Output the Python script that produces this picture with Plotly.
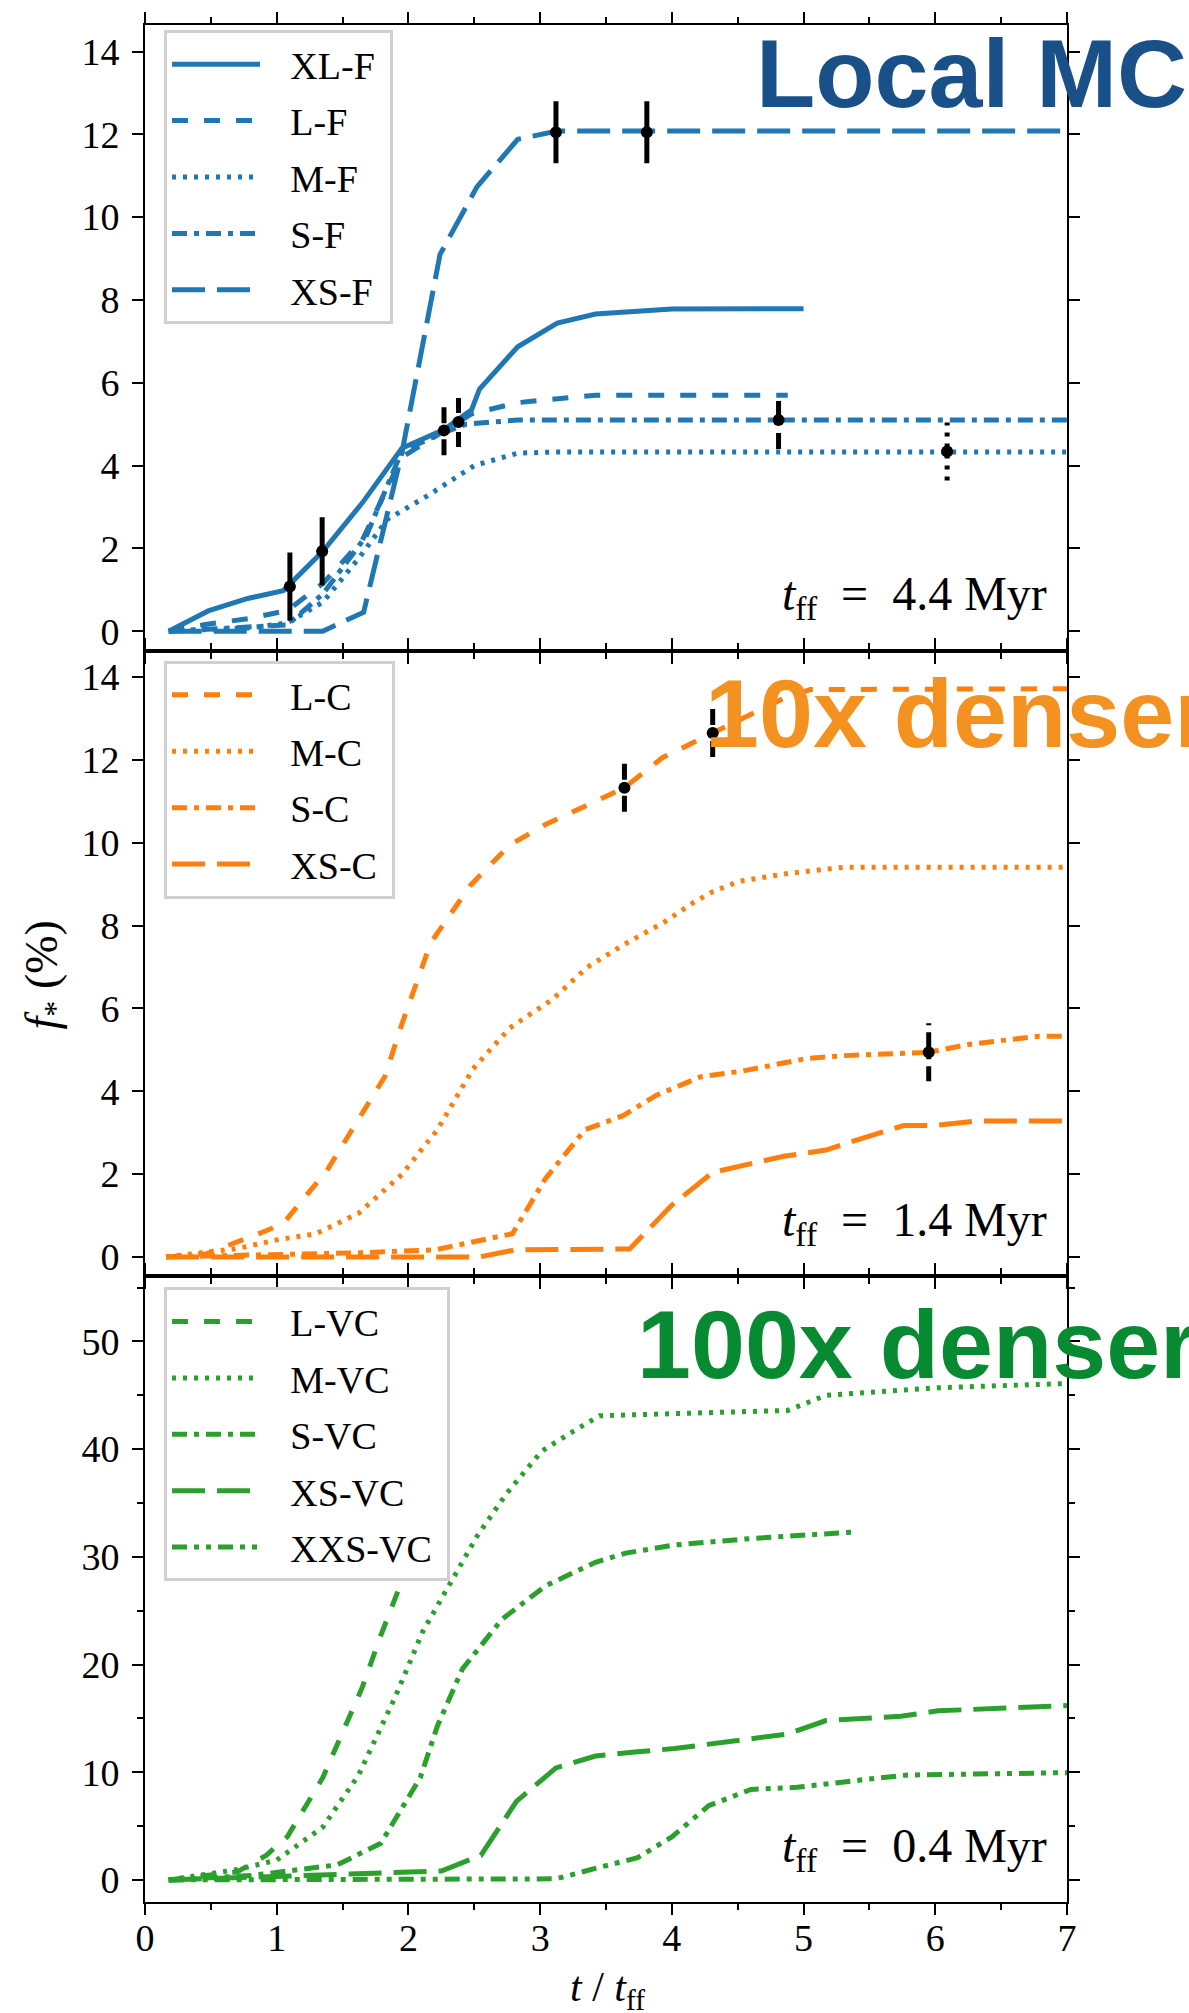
import plotly.graph_objects as go
from plotly.subplots import make_subplots

SERIF = "Liberation Serif"
SANS = "Liberation Sans"

BLUE = "#1f77b4"
ORANGE = "#ff7f0e"
GREEN = "#2ca02c"

# dash patterns used for the different cloud sizes
DASHES = {
    "solid": "solid",
    "dashed": "16px,16px",
    "dotted": "4px,7px",
    "dashdot": "15px,7px,5px,7px",
    "longdash": "33px,12px",
    "dashdotdot": "15px,7px,5px,7px,5px,7px",
}

# ---------------- Local MC (t_ff = 4.4 Myr) ----------------
xlf_t = [0.18, 0.48, 0.78, 1.05, 1.35, 1.65, 1.95, 2.27, 2.48, 2.54, 2.83, 3.13, 3.42, 4.0, 5.0]
xlf_y = [0.0, 0.49, 0.79, 0.98, 1.93, 3.1, 4.42, 4.87, 5.35, 5.85, 6.87, 7.44, 7.66, 7.78, 7.79]
lf_t = [0.18, 0.47, 0.78, 1.08, 1.35, 1.65, 1.95, 2.27, 2.48, 2.83, 3.13, 3.42, 4.88]
lf_y = [0.0, 0.17, 0.3, 0.5, 1.15, 2.2, 4.2, 4.85, 5.25, 5.52, 5.62, 5.7, 5.7]
mf_t = [0.18, 0.5, 0.8, 1.08, 1.35, 1.62, 1.84, 2.14, 2.5, 2.83, 3.13, 7.0]
mf_y = [0.0, 0.03, 0.08, 0.2, 0.7, 1.75, 2.7, 3.26, 4.0, 4.3, 4.33, 4.33]
sf_t = [0.18, 0.5, 0.8, 1.08, 1.35, 1.68, 1.95, 2.27, 2.44, 2.83, 7.0]
sf_y = [0.0, 0.05, 0.1, 0.15, 0.9, 2.3, 4.35, 4.8, 5.0, 5.1, 5.1]
xsf_t = [0.18, 1.35, 1.66, 1.95, 2.24, 2.52, 2.83, 3.13, 7.0]
xsf_y = [0.0, 0.0, 0.46, 4.3, 9.1, 10.73, 11.88, 12.08, 12.08]

errF_t = [1.1, 1.345, 2.27, 2.38, 3.12, 3.81, 4.81, 6.09]
errF_y = [1.08, 1.93, 4.85, 5.05, 12.05, 12.05, 5.1, 4.34]
errF_e = [0.82, 0.82, 0.6, 0.6, 0.75, 0.75, 0.7, 0.7]
errF_style = ["solid", "solid", "dashed", "dashdot", "solid", "solid", "dashed", "dotted"]

# ---------------- 10x denser (t_ff = 1.4 Myr) ----------------
lc_t = [0.16, 0.46, 0.92, 1.05, 1.38, 1.82, 1.95, 2.17, 2.47, 2.77, 3.04, 3.64, 3.93, 4.31, 4.85, 5.05, 7.0]
lc_y = [0.0, 0.07, 0.63, 0.81, 2.08, 4.35, 5.62, 7.59, 8.97, 9.95, 10.44, 11.33, 12.06, 12.65, 13.49, 13.7, 13.72]
mc_t = [0.16, 0.7, 1.0, 1.3, 1.62, 1.95, 2.22, 2.49, 2.77, 3.09, 3.36, 3.64, 3.94, 4.17, 4.31, 4.51, 4.88, 5.31, 7.0]
mc_y = [0.0, 0.2, 0.41, 0.56, 1.05, 1.99, 3.07, 4.54, 5.53, 6.21, 7.0, 7.55, 8.08, 8.57, 8.82, 9.07, 9.26, 9.41, 9.41]
sc_t = [0.16, 1.65, 2.2, 2.49, 2.79, 3.04, 3.34, 3.63, 3.88, 4.22, 4.54, 5.02, 5.31, 5.95, 6.25, 6.79, 7.0]
sc_y = [0.0, 0.1, 0.17, 0.36, 0.56, 1.89, 3.07, 3.41, 3.9, 4.35, 4.49, 4.79, 4.86, 4.94, 5.13, 5.33, 5.33]
xsc_t = [0.16, 2.54, 2.81, 3.68, 4.0, 4.31, 4.85, 5.17, 5.45, 5.76, 5.99, 6.31, 7.0]
xsc_y = [0.0, 0.0, 0.17, 0.19, 1.25, 2.04, 2.43, 2.58, 2.87, 3.17, 3.17, 3.28, 3.28]

errC_t = [3.64, 4.31, 5.95]
errC_y = [11.33, 12.65, 4.94]
errC_e = [0.58, 0.58, 0.7]
errC_style = ["dashed", "dashed", "dashdot"]

# ---------------- 100x denser (t_ff = 0.4 Myr) ----------------
lvc_t = [0.18, 0.7, 0.92, 1.08, 1.35, 1.52, 1.65, 1.79, 1.92, 2.02, 2.1]
lvc_y = [0.0, 0.75, 2.28, 4.0, 9.5, 14.3, 17.9, 22.7, 26.8, 30.5, 33.5]
mvc_t = [0.18, 0.7, 1.0, 1.35, 1.62, 1.9, 2.11, 2.33, 2.52, 2.74, 3.01, 3.23, 3.45, 4.88, 5.17, 6.02, 7.0]
mvc_y = [0.0, 0.96, 1.84, 4.9, 9.7, 17.0, 23.1, 27.9, 31.9, 35.8, 39.8, 41.5, 43.1, 43.6, 45.0, 45.7, 46.1]
svc_t = [0.18, 0.8, 1.46, 1.79, 2.09, 2.22, 2.41, 2.71, 3.04, 3.42, 3.65, 4.02, 4.6, 5.37]
svc_y = [0.0, 0.4, 1.4, 3.4, 9.5, 14.3, 19.6, 24.2, 27.3, 29.5, 30.35, 31.1, 31.7, 32.3]
xsvc_t = [0.18, 2.25, 2.55, 2.82, 3.12, 3.42, 3.74, 4.02, 4.88, 5.17, 5.74, 6.02, 7.0]
xsvc_y = [0.0, 0.83, 2.28, 7.3, 10.4, 11.5, 11.9, 12.2, 13.55, 14.8, 15.2, 15.7, 16.2]
xxsvc_t = [0.18, 3.12, 3.455, 3.74, 4.0, 4.28, 4.6, 4.95, 5.45, 5.79, 7.0]
xxsvc_y = [0.0, 0.1, 1.18, 2.06, 4.0, 6.9, 8.4, 8.6, 9.3, 9.74, 9.96]

panels = [
    dict(row=1, color=BLUE, legend="legend", curves=[
        ("XL-F", xlf_t, xlf_y, "solid"),
        ("L-F", lf_t, lf_y, "dashed"),
        ("M-F", mf_t, mf_y, "dotted"),
        ("S-F", sf_t, sf_y, "dashdot"),
        ("XS-F", xsf_t, xsf_y, "longdash"),
    ], err=(errF_t, errF_y, errF_e, errF_style)),
    dict(row=2, color=ORANGE, legend="legend2", curves=[
        ("L-C", lc_t, lc_y, "dashed"),
        ("M-C", mc_t, mc_y, "dotted"),
        ("S-C", sc_t, sc_y, "dashdot"),
        ("XS-C", xsc_t, xsc_y, "longdash"),
    ], err=(errC_t, errC_y, errC_e, errC_style)),
    dict(row=3, color=GREEN, legend="legend3", curves=[
        ("L-VC", lvc_t, lvc_y, "dashed"),
        ("M-VC", mvc_t, mvc_y, "dotted"),
        ("S-VC", svc_t, svc_y, "dashdot"),
        ("XS-VC", xsvc_t, xsvc_y, "longdash"),
        ("XXS-VC", xxsvc_t, xxsvc_y, "dashdotdot"),
    ], err=None),
]

# spacing around the legend labels
LEGEND_PAD = "&nbsp;&nbsp;&#8198;"
LEGEND_TAIL = "&nbsp;"

fig = make_subplots(rows=3, cols=1, vertical_spacing=0)

for p in panels:
    for name, t, y, style in p["curves"]:
        fig.add_trace(go.Scatter(
            x=t, y=y, mode="lines", name=LEGEND_PAD + name + LEGEND_TAIL,
            line=dict(color=p["color"], width=5, dash=DASHES[style]),
            legend=p["legend"], legendgroup=name,
        ), row=p["row"], col=1)
    if p["err"]:
        et, ey, ee, es = p["err"]
        for ti, yi, ei, si in zip(et, ey, ee, es):
            fig.add_trace(go.Scatter(
                x=[ti, ti], y=[yi - ei, yi + ei], mode="lines",
                line=dict(color="black", width=5, dash=DASHES[si]),
                showlegend=False, hoverinfo="skip",
            ), row=p["row"], col=1)
        fig.add_trace(go.Scatter(
            x=et, y=ey, mode="markers",
            marker=dict(color="black", size=12),
            showlegend=False,
        ), row=p["row"], col=1)

W, H = 1189, 2013
ML, MR, MT, MB = 145, 122, 18, 111
PW = W - ML - MR
PH = H - MT - MB

axis_common = dict(
    showline=True, linewidth=2, linecolor="black", mirror="ticks",
    ticks="outside", ticklen=11, tickwidth=2, tickcolor="black",
    showgrid=False, zeroline=False,
    tickfont=dict(family=SERIF, size=38, color="black"),
)

for r in (1, 2, 3):
    fig.update_xaxes(
        range=[0, 7], tick0=0, dtick=1, showticklabels=(r == 3),
        minor=dict(dtick=0.5, ticks="outside", ticklen=6, tickwidth=2, tickcolor="black", showgrid=False),
        ticklabelstandoff=-10,
        row=r, col=1, **axis_common)

fig.update_yaxes(range=[-0.47, 14.64], tick0=0, dtick=2, ticklabelstandoff=5,
                 row=1, col=1, **axis_common)
fig.update_yaxes(range=[-0.47, 14.64], tick0=0, dtick=2, ticklabelstandoff=5,
                 row=2, col=1, **axis_common)
fig.update_yaxes(range=[-2.05, 56.05], tick0=0, dtick=10, ticklabelstandoff=5,
                 minor=dict(dtick=5, ticks="outside", ticklen=6, tickwidth=2, tickcolor="black", showgrid=False),
                 row=3, col=1, **axis_common)

third = 1.0 / 3.0
fig.update_layout(
    yaxis=dict(domain=[2 * third, 1.0]),
    yaxis2=dict(domain=[third, 2 * third]),
    yaxis3=dict(domain=[0.0, third]),
)


def legend_box(top_px):
    return dict(
        x=(164 - ML) / PW, y=1 - (top_px - MT) / PH,
        xanchor="left", yanchor="top",
        font=dict(family=SERIF, size=38, color="black"),
        bgcolor="white", bordercolor="#d0d0d0", borderwidth=3,
        itemwidth=88, tracegroupgap=4, traceorder="grouped",
    )


fig.update_layout(
    width=W, height=H,
    margin=dict(l=ML, r=MR, t=MT, b=MB),
    paper_bgcolor="white", plot_bgcolor="white",
    legend=legend_box(23), legend2=legend_box(656), legend3=legend_box(1285),
)

# panel labels
labels = [
    ("x domain", "y domain", "<b>Local MC</b>", "#1a5088", 0.660, 0.922),
    ("x2 domain", "y2 domain", "<b>10x denser</b>", "#f39220", 0.605, 0.900),
    ("x3 domain", "y3 domain", "<b>100x denser</b>", "#088a32", 0.531, 0.891),
]
for xr, yr, txt, col, ax, ay in labels:
    fig.add_annotation(xref=xr, yref=yr, x=ax, y=ay, text=txt, showarrow=False,
                       xanchor="left", yanchor="middle",
                       font=dict(family=SANS, size=97, color=col))

tff = [("x domain", "y domain", "4.4"), ("x2 domain", "y2 domain", "1.4"), ("x3 domain", "y3 domain", "0.4")]
for xr, yr, v in tff:
    fig.add_annotation(xref=xr, yref=yr, x=0.981, y=0.085,
                       text="<i>t</i><sub>ff</sub>&nbsp;&nbsp;=&nbsp;&nbsp;" + v + "&nbsp;Myr",
                       showarrow=False, xanchor="right", yanchor="middle",
                       font=dict(family=SERIF, size=48, color="black"))

# axis titles
fig.add_annotation(xref="paper", yref="paper", x=(45 - ML) / PW, y=1 - (972 - MT) / PH,
                   text="<i>f</i><sub>*</sub>&nbsp;(%)", textangle=-90, showarrow=False,
                   xanchor="center", yanchor="middle",
                   font=dict(family=SERIF, size=46, color="black"))
fig.add_annotation(xref="paper", yref="paper", x=(607 - ML) / PW, y=-(1990 - (H - MB)) / PH,
                   text="<i>t</i>&nbsp;/&nbsp;<i>t</i><sub>ff</sub>", showarrow=False,
                   xanchor="center", yanchor="middle",
                   font=dict(family=SERIF, size=42, color="black"))

fig.write_html("out.html")
